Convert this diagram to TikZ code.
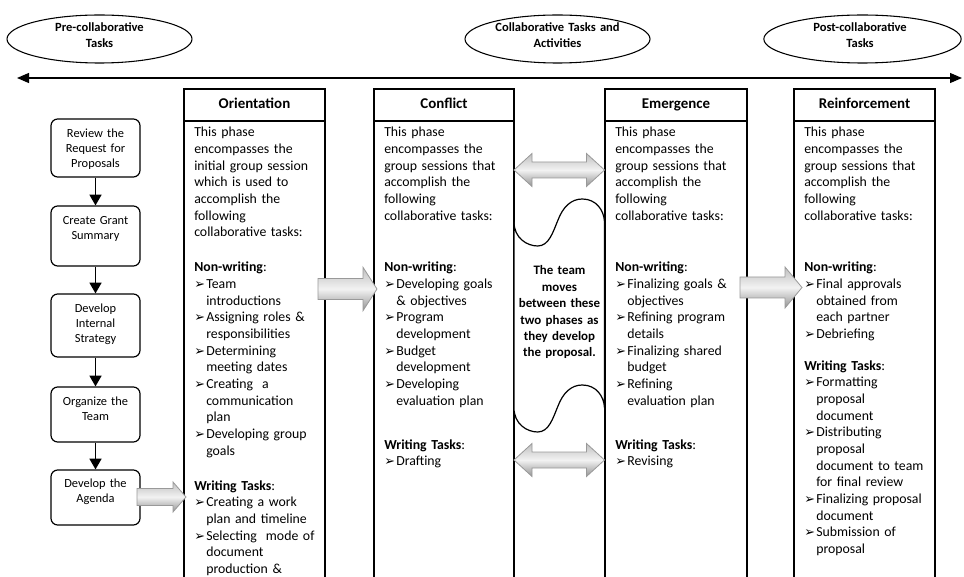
\documentclass[tikz,border=0pt]{standalone}
\usepackage{fontspec}
\setmainfont{Carlito}
\newfontfamily\dejavu{DejaVu Sans}
\usetikzlibrary{arrows.meta,shapes.geometric}
\newcommand\bitem{\par\hangindent=9pt\hangafter=1\noindent\makebox[9pt][l]{\dejavu\fontsize{9.6}{9.6}\selectfont ➢}}
\begin{document}
\begin{tikzpicture}[x=0.75pt,y=-0.75pt,
  oval/.style={draw, ellipse, line width=0.8pt, inner sep=0pt},
  ovaltext/.style={anchor=base, inner sep=0pt, text width=120pt, align=center, font=\fontsize{9.4}{11.5}\selectfont\bfseries},
  timeline/.style={line width=0.9pt, {Triangle[length=9pt,width=7.5pt]}-{Triangle[length=9pt,width=7.5pt]}},
  col/.style={draw, line width=1pt},
  hdr/.style={draw, line width=1pt, minimum width=105.75pt, minimum height=24pt, inner sep=0pt, text height=7.5pt, text depth=2pt, font=\fontsize{11.2}{13}\selectfont\bfseries},
  body/.style={anchor=base west, inner sep=0pt, text width=98pt, align=left, font=\fontsize{10.35}{12.5}\selectfont},
  fbox/.style={draw, rounded corners=5pt, line width=0.9pt, minimum width=66.75pt, inner sep=0pt},
  ftext/.style={anchor=base, inner sep=0pt, text width=66pt, align=center, font=\fontsize{9.3}{11.25}\selectfont},
  flow/.style={line width=0.9pt, -{Triangle[length=8pt,width=9pt]}},
  wave/.style={draw, fill=white, line width=0.9pt},
  midtext/.style={anchor=base, inner sep=0pt, text width=70pt, align=center, font=\fontsize{9.7}{12.3}\selectfont\bfseries},
  blk/.style={draw=gray!80, line width=0.6pt, top color=gray!50, bottom color=gray!85, middle color=gray!10}
]
\useasboundingbox (0,0) rectangle (964,577);
\clip (0,0) rectangle (964,577);

% ellipses
\node[oval, minimum width=138.75pt, minimum height=36pt] (e1) at (99.5,39) {};
\node[ovaltext] (e1t) at (99.5,32) {Pre-collaborative\\Tasks};
\node[oval, minimum width=138.75pt, minimum height=36pt] (e2) at (557.5,39) {};
\node[ovaltext] (e2t) at (557.5,32) {Collaborative Tasks and\\Activities};
\node[oval, minimum width=148pt, minimum height=36pt] (e3) at (862.5,39) {};
\node[ovaltext] (e3t) at (860,32) {Post-collaborative\\Tasks};

% timeline
\coordinate (tl) at (17,78);
\coordinate (tr) at (962,78);
\draw[timeline] (tl) -- (tr);

% columns
\draw[col] (184,121) rectangle (325,600);
\node[hdr] (h1) at (254.5,105) {Orientation};
\draw[col] (374,121) rectangle (514,600);
\node[hdr, minimum width=105pt] (h2) at (444,105) {Conflict};
\draw[col] (605,121) rectangle (747,600);
\node[hdr, minimum width=106.5pt] (h3) at (676,105) {Emergence};
\draw[col] (794,121) rectangle (935,600);
\node[hdr] (h4) at (864.5,105) {Reinforcement};

% middle wave shape
\draw[wave] (514,222) .. controls (514,238) and (527,246) .. (537.7,246)
  .. controls (549,246) and (553,232) .. (558,220)
  .. controls (563,207) and (571,199) .. (582.3,199)
  .. controls (596,199) and (604,210) .. (604.5,222)
  -- (604.5,408)
  .. controls (604,396) and (596,385) .. (582.3,385)
  .. controls (571,385) and (563,393) .. (558,406)
  .. controls (553,418) and (549,432) .. (537.7,432)
  .. controls (527,432) and (514,424) .. (514,408) -- cycle;
\node[midtext] (mt) at (559.5,275) {The team\\moves\\between these\\two phases as\\they develop\\the proposal.};

% Orientation text
\node[body] (o1) at (194,137) {This phase\newline encompasses the\newline initial group session\newline which is used to\newline accomplish the\newline following\newline collaborative tasks:};
\node[body] (o2) at (194,272) {\textbf{Non-writing}:\bitem Team\newline introductions\bitem Assigning roles \&\newline responsibilities\bitem Determining\newline meeting dates\bitem Creating~ a\newline communication\newline plan\bitem Developing group\newline goals\par};
\node[body] (o3) at (194,490) {\textbf{Writing Tasks}:\bitem Creating a work\newline plan and timeline\bitem Selecting~ mode of\newline document\newline production \&\par};

% Conflict text
\node[body] (c1) at (384,137) {This phase\newline encompasses the\newline group sessions that\newline accomplish the\newline following\newline collaborative tasks:};
\node[body] (c2) at (384,272) {\textbf{Non-writing}:\bitem Developing goals\newline \& objectives\bitem Program\newline development\bitem Budget\newline development\bitem Developing\newline evaluation plan\par};
\node[body] (c3) at (384,449) {\textbf{Writing Tasks}:\bitem Drafting\par};

% Emergence text
\node[body] (m1) at (615,137) {This phase\newline encompasses the\newline group sessions that\newline accomplish the\newline following\newline collaborative tasks:};
\node[body] (m2) at (615,272) {\textbf{Non-writing}:\bitem Finalizing goals \&\newline objectives\bitem Refining program\newline details\bitem Finalizing shared\newline budget\bitem Refining\newline evaluation plan\par};
\node[body] (m3) at (615,449) {\textbf{Writing Tasks}:\bitem Revising\par};

% Reinforcement text
\node[body] (r1) at (804,137) {This phase\newline encompasses the\newline group sessions that\newline accomplish the\newline following\newline collaborative tasks:};
\node[body] (r2) at (804,272) {\textbf{Non-writing}:\bitem Final approvals\newline obtained from\newline each partner\bitem Debriefing\par};
\node[body] (r3) at (804,370) {\textbf{Writing Tasks}:\bitem Formatting\newline proposal\newline document\bitem Distributing\newline proposal\newline document to team\newline for final review\bitem Finalizing proposal\newline document\bitem Submission of\newline proposal\par};

% flowchart
\node[fbox, minimum height=43.5pt] (b1) at (95.5,148) {};
\node[ftext] (b1t) at (95.5,137.5) {Review the\\Request for\\Proposals};
\node[fbox, minimum height=45pt] (b2) at (95.5,236) {};
\node[ftext] (b2t) at (95.5,224.5) {Create Grant\\Summary};
\node[fbox, minimum height=47.25pt] (b3) at (95.5,325.5) {};
\node[ftext] (b3t) at (95.5,312.5) {Develop\\Internal\\Strategy};
\node[fbox, minimum height=41.25pt] (b4) at (95.5,414.5) {};
\node[ftext] (b4t) at (95.5,405.5) {Organize the\\Team};
\node[fbox, minimum height=41.25pt] (b5) at (95.5,497.5) {};
\node[ftext] (b5t) at (95.5,487.5) {Develop the\\Agenda};
\draw[flow] (b1) -- (b2);
\draw[flow] (b2) -- (b3);
\draw[flow] (b3) -- (b4);
\draw[flow] (b4) -- (b5);

% block arrows
\path[blk] (137,488.5) -- (173,488.5) -- (173,482) -- (186,497) -- (173,512) -- (173,505.5) -- (137,505.5) -- cycle;
\path[blk] (318,278.5) -- (363,278.5) -- (363,267.3) -- (377,289) -- (363,310.7) -- (363,299.5) -- (318,299.5) -- cycle;
\path[blk] (740,277) -- (785,277) -- (785,267) -- (802,287.5) -- (785,308) -- (785,298) -- (740,298) -- cycle;
\path[blk] (514,170) -- (532,153.5) -- (532,162) -- (586.5,162) -- (586.5,153.5) -- (604.5,170) -- (586.5,186.5) -- (586.5,178) -- (532,178) -- (532,186.5) -- cycle;
\path[blk] (514,460) -- (532,443.5) -- (532,452) -- (586.5,452) -- (586.5,443.5) -- (604.5,460) -- (586.5,476.5) -- (586.5,468) -- (532,468) -- (532,476.5) -- cycle;
\end{tikzpicture}
\end{document}
